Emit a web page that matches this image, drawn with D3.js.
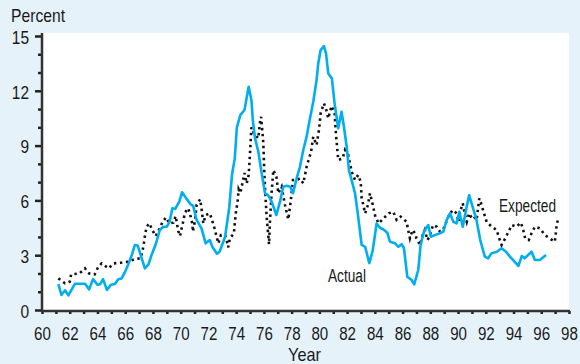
<!DOCTYPE html>
<html>
<head>
<meta charset="utf-8">
<script src="https://cdn.jsdelivr.net/npm/d3@7/dist/d3.min.js"></script>
<style>
  body { margin: 0; background: #e6f2fa; }
  text { font-family: "Liberation Sans", Arial, sans-serif; fill: #1a1a1a; }
</style>
</head>
<body>
<div class="chart"></div>
<script>
// actual series (year, percent)
const actualYears = [61.18,61.4,61.66,61.9,62.38,63.1,63.4,63.68,64.0,64.2,64.4,64.68,64.97,65.26,65.5,65.74,65.98,66.2,66.47,66.7,66.9,67.19,67.42,67.68,67.9,68.2,68.5,68.75,69.0,69.2,69.4,69.6,69.9,70.1,70.4,70.7,70.9,71.15,71.5,71.8,72.1,72.3,72.62,72.8,73.2,73.5,73.7,73.9,74.05,74.3,74.6,74.9,75.1,75.2,75.36,75.6,75.84,76.08,76.3,76.56,76.9,77.16,77.4,77.64,77.9,78.1,78.36,78.6,78.84,79.08,79.3,79.56,79.8,79.92,80.09,80.33,80.48,80.64,80.9,81.1,81.36,81.6,81.77,81.97,82.13,82.33,82.57,82.8,83.05,83.3,83.6,83.84,84.13,84.37,84.6,84.9,85.09,85.45,85.7,85.93,86.1,86.34,86.65,86.84,87.13,87.3,87.54,87.85,88.04,88.33,88.7,88.94,89.18,89.42,89.66,89.9,90.09,90.34,90.6,90.8,91.05,91.33,91.6,91.93,92.17,92.4,92.8,93.14,93.46,93.74,94.35,94.6,94.8,95.3,95.54,95.9,96.34];
const actualValues = [1.42,0.82,1.08,0.8,1.44,1.44,1.13,1.69,1.38,1.41,1.69,1.1,1.38,1.42,1.68,1.73,2.07,2.46,3.0,3.56,3.53,2.83,2.28,2.5,3.01,3.6,4.38,4.56,4.56,4.83,5.57,5.53,5.93,6.45,6.11,5.8,5.7,4.93,4.47,3.65,3.83,3.43,3.08,3.19,4.0,5.6,7.4,8.3,10.0,10.67,10.95,12.22,11.5,10.4,9.4,8.66,7.48,6.39,6.29,5.93,5.2,5.93,6.75,6.8,6.75,6.39,7.2,7.84,8.76,9.49,10.4,11.4,12.6,13.5,14.23,14.45,14.05,12.95,12.68,11.3,9.95,10.85,10.03,8.94,7.66,7.1,6.39,5.1,3.56,3.46,2.57,3.23,4.74,4.5,4.42,4.23,3.74,3.65,3.46,3.6,3.38,1.82,1.64,1.4,2.19,3.56,4.29,4.65,4.01,4.1,4.2,4.29,4.93,5.29,4.83,4.74,5.38,4.56,5.57,6.29,5.65,4.93,3.83,2.92,2.83,3.1,3.19,3.38,3.19,2.92,2.41,2.96,2.83,3.19,2.74,2.74,3.01];

// expected series (year, percent)
const expectedYears = [61.18,61.66,62.0,62.1,62.7,63.1,63.4,63.8,64.06,64.3,64.8,65.14,65.67,66.2,66.7,67.1,67.26,67.35,67.45,67.55,67.74,67.98,68.2,68.46,68.7,68.94,69.18,69.47,69.64,69.72,69.83,69.95,70.07,70.19,70.3,70.55,70.72,70.84,70.88,71.03,71.15,71.4,71.5,71.63,71.8,72.1,72.3,72.47,72.6,72.72,72.9,73.2,73.32,73.43,73.55,73.84,73.9,74.0,74.1,74.18,74.3,74.5,74.6,74.76,74.9,74.97,75.03,75.1,75.28,75.6,75.7,75.8,75.96,76.03,76.13,76.2,76.3,76.37,76.44,76.56,76.68,76.9,77.04,77.28,77.52,77.76,77.93,78.1,78.36,78.6,78.84,79.08,79.4,79.56,79.8,79.99,80.09,80.33,80.5,80.64,80.88,81.1,81.2,81.36,81.68,81.85,82.08,82.33,82.57,82.8,82.98,83.05,83.17,83.3,83.5,83.65,83.8,84.04,84.28,84.6,85.0,85.33,85.57,85.86,86.29,86.4,86.53,86.72,86.9,87.0,87.26,87.45,87.6,87.8,87.93,88.2,88.46,88.7,88.9,89.07,89.3,89.6,89.9,90.04,90.15,90.34,90.5,90.63,90.8,91.0,91.14,91.34,91.53,91.7,91.87,92.06,92.42,92.78,92.97,93.14,93.4,93.64,93.88,94.2,94.53,94.7,94.84,95.1,95.3,95.54,95.9,96.27,96.6,96.98,97.1,97.2];
const expectedValues = [1.73,1.46,1.55,1.95,2.0,2.28,2.0,1.95,2.37,2.55,2.28,2.55,2.59,2.64,2.79,2.83,3.28,3.68,4.2,4.56,4.74,4.34,4.05,4.43,4.83,5.07,4.74,4.78,5.14,4.78,4.32,4.05,4.47,4.87,5.33,5.57,5.11,4.71,4.29,4.89,5.75,6.06,5.57,4.74,5.2,5.29,4.83,4.38,3.98,3.65,4.1,4.1,3.8,3.43,3.92,4.2,4.74,5.47,5.87,6.6,6.4,7.12,7.5,6.93,7.39,8.2,9.0,10.0,9.67,9.4,10.2,10.58,9.12,7.5,6.02,5.1,4.2,3.6,4.93,6.48,7.66,7.3,6.39,6.75,5.75,4.96,5.93,7.12,7.12,7.2,6.93,7.84,8.66,9.49,9.03,9.95,10.77,11.31,10.95,10.49,11.17,10.77,9.58,8.21,8.3,8.76,8.48,7.57,7.12,7.39,7.02,6.11,5.75,5.29,5.75,6.39,5.93,5.1,4.74,5.0,5.29,5.38,4.93,5.11,4.83,4.38,3.92,4.38,4.2,3.92,3.56,4.1,4.38,3.83,4.01,4.65,4.56,4.29,4.38,4.65,5.11,5.47,5.29,4.83,5.38,5.84,5.2,4.83,5.29,5.02,5.11,4.93,6.11,5.75,5.29,4.83,4.56,4.38,3.92,3.56,3.92,4.29,4.65,4.56,4.78,4.38,3.92,3.83,4.2,4.56,4.47,4.1,3.92,3.74,4.56,4.96];

const yMajor = [0,3,6,9,12,15];
const yMinor = [1,2,4,5,7,8,10,11,13,14];
const xTicks = d3.range(60, 99, 1);
const xLabels = d3.range(60, 99, 2);

let svg = d3.select(".chart")
            .append("svg")
            .attr("width", 580)
            .attr("height", 364)

svg.append("rect")
   .attr("width", 580).attr("height", 364)
   .attr("fill", "#e6f2fa")

let x_scale = d3.scaleLinear().domain([60, 98]).range([42, 569])
let y_scale = d3.scaleLinear().domain([0, 15]).range([310, 36])

// white plot area
svg.append("rect")
   .attr("x", 42).attr("y", 33)
   .attr("width", 527).attr("height", 278)
   .attr("fill", "#ffffff")

// condensed look: squeeze text to the narrow face of the original
function narrow(sel, perChar){
    sel.each(function(){
        let t = d3.select(this)
        let s = t.text()
        if (s.length) t.attr("textLength", s.length * perChar).attr("lengthAdjust", "spacingAndGlyphs")
    })
}

// y axis, major + minor ticks
let y_major = d3.axisLeft(y_scale).tickValues(yMajor).tickSize(6).tickPadding(6).tickSizeOuter(0)
let y_minor = d3.axisLeft(y_scale).tickValues(yMinor).tickSize(3).tickFormat("").tickSizeOuter(0)
let gy = svg.append("g").attr("transform", "translate(41,0)").call(y_major)
svg.append("g").attr("transform", "translate(41,0)").call(y_minor)
   .call(g => g.select(".domain").remove())
gy.select(".domain").remove()
gy.selectAll("text").attr("font-size", 18).attr("dy", "0.4em").call(narrow, 8.6)
svg.selectAll(".tick line").attr("stroke", "#222").attr("stroke-width", 2.5)

// x axis
let x_axis = d3.axisBottom(x_scale).tickValues(xTicks).tickSize(3).tickFormat("").tickSizeOuter(0)
let gx = svg.append("g").attr("transform", "translate(0,311)").call(x_axis)
gx.select(".domain").remove()
gx.selectAll(".tick line").attr("stroke", "#222").attr("stroke-width", 2.5)
let x_lab = d3.axisBottom(x_scale).tickValues(xLabels).tickSize(0).tickPadding(16).tickFormat(d => d)
let gxl = svg.append("g").attr("transform", "translate(0,311)").call(x_lab)
gxl.select(".domain").remove()
gxl.selectAll("text").attr("font-size", 18).call(narrow, 8.4)

// axis lines
svg.append("line").attr("x1", 42).attr("x2", 42).attr("y1", 33).attr("y2", 312)
   .attr("stroke", "#333").attr("stroke-width", 2.5)
svg.append("line").attr("x1", 41).attr("x2", 570).attr("y1", 311).attr("y2", 311)
   .attr("stroke", "#333").attr("stroke-width", 2.5)

let line = d3.line().x(d => x_scale(d[0])).y(d => y_scale(d[1]))

let expected = expectedYears.map((d, i) => [d, expectedValues[i]])
let actual = actualYears.map((d, i) => [d, actualValues[i]])

svg.append("path")
   .attr("d", line(expected))
   .attr("fill", "none")
   .attr("stroke", "#111")
   .attr("stroke-width", 2.6)
   .attr("stroke-dasharray", "2.4,3.6")

svg.append("path")
   .attr("d", line(actual))
   .attr("fill", "none")
   .attr("stroke", "#00aeef")
   .attr("stroke-width", 2.6)
   .attr("stroke-linejoin", "round")

// labels
svg.append("text").attr("x", 11).attr("y", 22).attr("font-size", 19)
   .attr("textLength", 54).attr("lengthAdjust", "spacingAndGlyphs").text("Percent")
svg.append("text").attr("x", 288).attr("y", 361).attr("font-size", 19)
   .attr("textLength", 33).attr("lengthAdjust", "spacingAndGlyphs").text("Year")
svg.append("text").attr("x", 328).attr("y", 282).attr("font-size", 18)
   .attr("textLength", 38).attr("lengthAdjust", "spacingAndGlyphs").text("Actual")
svg.append("text").attr("x", 499).attr("y", 212).attr("font-size", 18)
   .attr("textLength", 57).attr("lengthAdjust", "spacingAndGlyphs").text("Expected")
</script>
</body>
</html>
